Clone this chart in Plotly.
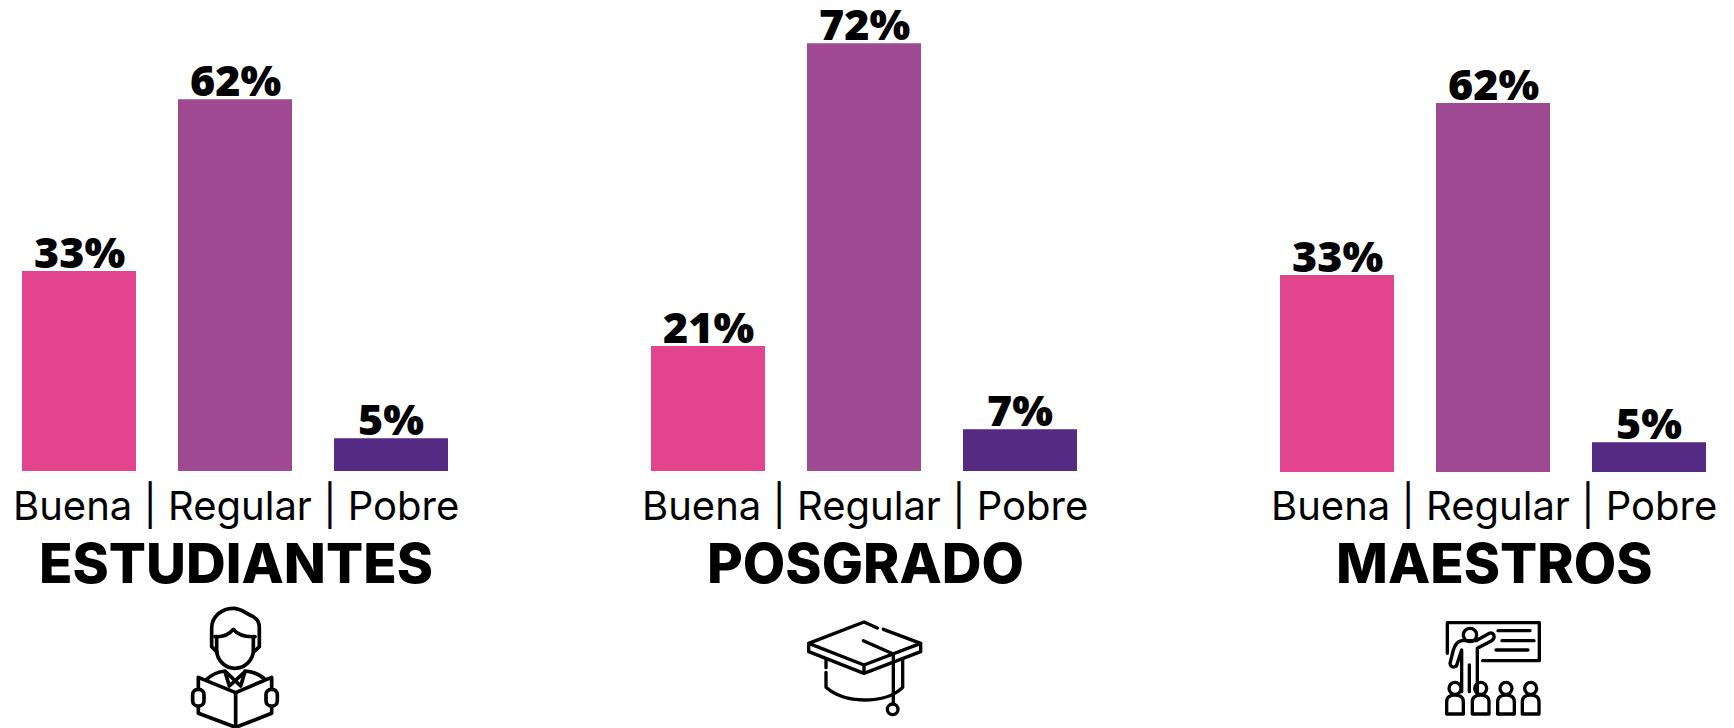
import base64
import plotly.graph_objects as go

W, H = 1734, 728
CATEGORIES = ["Buena", "Regular", "Pobre"]
COLORS = ["#E3448E", "#9E4991", "#542A82"]
PANELS = ["ESTUDIANTES", "POSGRADO", "MAESTROS"]
AXIS_LABEL = "Buena | Regular | Pobre"
# Bar heights
ESTUDIANTES = [33.6, 62.5, 5.5]
POSGRADO = [21.0, 71.9, 7.0]
MAESTROS = [33.1, 62.0, 5.0]
SERIES = [ESTUDIANTES, POSGRADO, MAESTROS]
# Printed labels
LABELS = [["33%", "62%", "5%"], ["21%", "72%", "7%"], ["33%", "62%", "5%"]]

FONT = "Inter"
VALUE_FONT = "Open Sans"
LEFT = [1, 630, 1259]
BASE = [471, 471, 472]
PANEL_W = 468
PX_PER_UNIT = 5.95

fig = go.Figure()
for i, vals in enumerate(SERIES):
    s = "" if i == 0 else str(i + 1)
    fig.add_trace(go.Bar(x=CATEGORIES, y=vals, marker_color=COLORS, marker_line_width=0,
                         xaxis="x" + s, yaxis="y" + s, showlegend=False, hoverinfo="skip"))
    fig.update_layout({
        "xaxis" + s: dict(domain=[LEFT[i] / W, (LEFT[i] + PANEL_W) / W], range=[-0.5, 2.5],
                          visible=False, anchor="y" + s, type="category",
                          categoryorder="array", categoryarray=CATEGORIES),
        "yaxis" + s: dict(domain=[(H - BASE[i]) / H, 1], range=[0, BASE[i] / PX_PER_UNIT],
                          visible=False, anchor="x" + s),
    })
    for c, v, t in zip(CATEGORIES, vals, LABELS[i]):
        fig.add_annotation(x=c, y=v, xref="x" + s, yref="y" + s, text=t, showarrow=False,
                           xanchor="center", yanchor="bottom", yshift=-4, height=44,
                           font=dict(family=VALUE_FONT, size=43, color="#000", weight=800))
    cx = LEFT[i] + PANEL_W / 2 + 1
    fig.add_annotation(x=cx / W, y=1 - 505 / H, xref="paper", yref="paper", text=AXIS_LABEL,
                       showarrow=False, xanchor="center", yanchor="middle",
                       font=dict(family=FONT, size=40, color="#000", weight=400))
    fig.add_annotation(x=cx / W, y=1 - 563 / H, xref="paper", yref="paper", text=PANELS[i],
                       showarrow=False, xanchor="center", yanchor="middle",
                       font=dict(family=FONT, size=55, color="#000", weight=800))


def svg_uri(w, h, body, sw):
    svg = (f'<svg xmlns="http://www.w3.org/2000/svg" width="{w}" height="{h}" viewBox="0 0 {w} {h}">'
           f'<g fill="none" stroke="#000" stroke-width="{sw}" stroke-linecap="round" stroke-linejoin="round">'
           f'{body}</g></svg>')
    return "data:image/svg+xml;base64," + base64.b64encode(svg.encode()).decode()


STUDENT = """
<path d="M140 155L125 140L125 85C125 50 155 25 190 25C215 25 225 40 250 50C262 58 268 65 268 85L268 140L252 155"/>
<path d="M135 110C165 112 180 100 190 88C200 100 220 112 255 110"/>
<path d="M140 110L140 150C140 180 165 205 195 205C225 205 250 180 250 150L250 110"/>
<path d="M108 240C125 222 150 215 165 213M225 213C250 215 270 222 287 240"/>
<path d="M165 215L178 258L222 218M225 215L212 258L170 218"/>
<path d="M85 232L85 340L197 382L305 340L305 232L197 278Z" fill="#fff"/>
<path d="M197 278L197 382"/>
<rect x="68" y="268" width="34" height="50" rx="16" fill="#fff"/>
<rect x="288" y="268" width="34" height="50" rx="16" fill="#fff"/>
"""
CAP = """
<path d="M352 84L312 66L146 130L312 195L482 130L370 88"/>
<path d="M146 130L146 155L312 220L482 155L482 130M312 195L312 220"/>
<path d="M198 180L198 203M198 217L198 262C230 290 270 300 312 300C360 300 400 290 428 262L428 175"/>
<path d="M310 122L400 162L400 312"/>
<circle cx="398" cy="328" r="16"/>
"""
people = "".join(
    f'<circle cx="{x}" cy="265" r="18"/><path d="M{x-25} 342L{x-25} 305C{x-25} 290 {x-12} 285 {x} 285'
    f'C{x+12} 285 {x+25} 290 {x+25} 305L{x+25} 342Z"/>' for x in (105, 182, 258, 332))
TEACHER = """
<path d="M82 160L82 68L358 68L358 182L188 182"/>
<path d="M234 92L330 92M246 122L342 122M228 150L324 150"/>
<circle cx="150" cy="105" r="20"/>
<path d="M172 275L172 145L215 122C228 113 222 95 208 100L168 122L125 122C110 125 105 135 100 150L90 190C90 205 110 205 112 190L125 150L125 275"/>
<path d="M148 195L148 275"/>
""" + people

for (px, py, w, h, body, sw) in [(170, 600, 390, 384, STUDENT, 11), (760, 600, 540, 384, CAP, 10),
                                 (1420, 600, 450, 384, TEACHER, 10)]:
    fig.add_layout_image(source=svg_uri(w, h, body, sw), xref="paper", yref="paper",
                         x=px / W, y=1 - py / H, sizex=w / 3 / W, sizey=h / 3 / H,
                         xanchor="left", yanchor="top", sizing="stretch", layer="above")

fig.update_layout(width=W, height=H, margin=dict(l=0, r=0, t=0, b=0), bargap=42 / 156,
                  paper_bgcolor="#fff", plot_bgcolor="#fff")
fig.write_html("out.html", config=dict(displayModeBar=False),
               post_script="document.body.style.margin='0';document.documentElement.style.overflow='hidden';")
